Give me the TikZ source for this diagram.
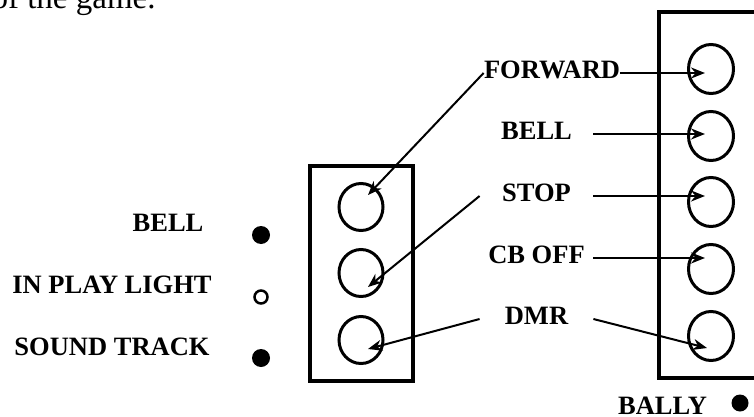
\documentclass[tikz,border=0pt]{standalone}
\usepackage{fontspec}
\setmainfont{Liberation Serif}
\usepackage{tikz}
\usetikzlibrary{shapes.geometric, arrows.meta}
\tikzstyle{legend} = [font=\fontsize{13.25}{16}\selectfont\bfseries, inner sep=0pt, text height=9pt, text depth=3.5pt]
\tikzstyle{slot} = [legend, minimum width=56.5pt, text centered]
\tikzstyle{knob} = [ellipse, draw=black, line width=1.5pt, minimum width=22pt, minimum height=23.5pt, inner sep=0pt]
\tikzstyle{lamp} = [circle, fill=black, minimum size=9pt, inner sep=0pt]
\tikzstyle{bulb} = [circle, draw=black, line width=1.25pt, minimum size=6.5pt, inner sep=0pt]
\tikzstyle{wire} = [-{Stealth[length=7pt, width=5.5pt]}, line width=1pt]
\tikzstyle{panel} = [draw=black, line width=2pt]

\begin{document}
\begin{tikzpicture}[x=0.5pt, y=-0.5pt]
		\useasboundingbox (0,0) rectangle (754,417);
		\clip (0,0) rectangle (754,417);
		\node (Game Line)[anchor=base east, inner sep=0pt, font=\fontsize{16.5}{20}\selectfont] at (156,9) {of the game.};
		\node (Left Panel)[panel, minimum width=51.5pt, minimum height=107.5pt] at (361.5,273.5) {};
		\draw [panel] (790,12) -- (659,12) -- (659,378) -- (790,378);
		\node (Left Knob 1)[knob] at (361,207) {};
		\node (Left Knob 2)[knob] at (361,273) {};
		\node (Left Knob 3)[knob] at (361,340) {};
		\node (Right Knob 1)[knob, minimum width=22.5pt, minimum height=24.5pt] at (711,69) {};
		\node (Right Knob 2)[knob, minimum width=22.5pt, minimum height=24.5pt] at (711,136) {};
		\node (Right Knob 3)[knob, minimum width=22.5pt, minimum height=24.5pt] at (711,202) {};
		\node (Right Knob 4)[knob, minimum width=22.5pt, minimum height=24.5pt] at (711,269) {};
		\node (Right Knob 5)[knob, minimum width=22.5pt, minimum height=24.5pt] at (711,336) {};
		\node (Bell)[legend] at (168,225.5) {BELL};
		\node (In Play Light)[legend] at (112,287.5) {IN PLAY LIGHT};
		\node (Sound Track)[legend] at (112,349.5) {SOUND TRACK};
		\node (Bell Lamp)[lamp] at (261,235) {};
		\node (In Play Lamp)[bulb] at (261,297) {};
		\node (Sound Lamp)[lamp] at (261,358) {};
		\node (Forward)[legend] at (552,73) {FORWARD};
		\node (Bell Switch)[slot] at (536.5,134) {BELL};
		\node (Stop)[slot] at (536.5,196) {STOP};
		\node (CB Off)[slot] at (536.5,258) {CB OFF};
		\node (DMR)[slot] at (536.5,319) {DMR};
		\node (Bally)[legend] at (662.5,408.5) {BALLY};
		\node (Bally Lamp)[lamp, minimum size=8.5pt] at (740,403) {};
		\draw [wire] (Forward.west) -- ([shift={(7,-12)}]Left Knob 1.center);
		\draw [wire] (Stop.west) -- ([shift={(7,14)}]Left Knob 2.center);
		\draw [wire] (DMR.west) -- ([shift={(7,9)}]Left Knob 3.center);
		\draw [wire, shorten >=3pt] (Forward.east) -- (Forward.east -| Right Knob 1.center);
		\draw [wire, shorten >=3pt] (Bell Switch.east) -- (Bell Switch.east -| Right Knob 2.center);
		\draw [wire, shorten >=3pt] (Stop.east) -- (Stop.east -| Right Knob 3.center);
		\draw [wire, shorten >=3pt] (CB Off.east) -- (CB Off.east -| Right Knob 4.center);
		\draw [wire] (DMR.east) -- ([shift={(-4,12)}]Right Knob 5.center);
	\end{tikzpicture}
\end{document}
